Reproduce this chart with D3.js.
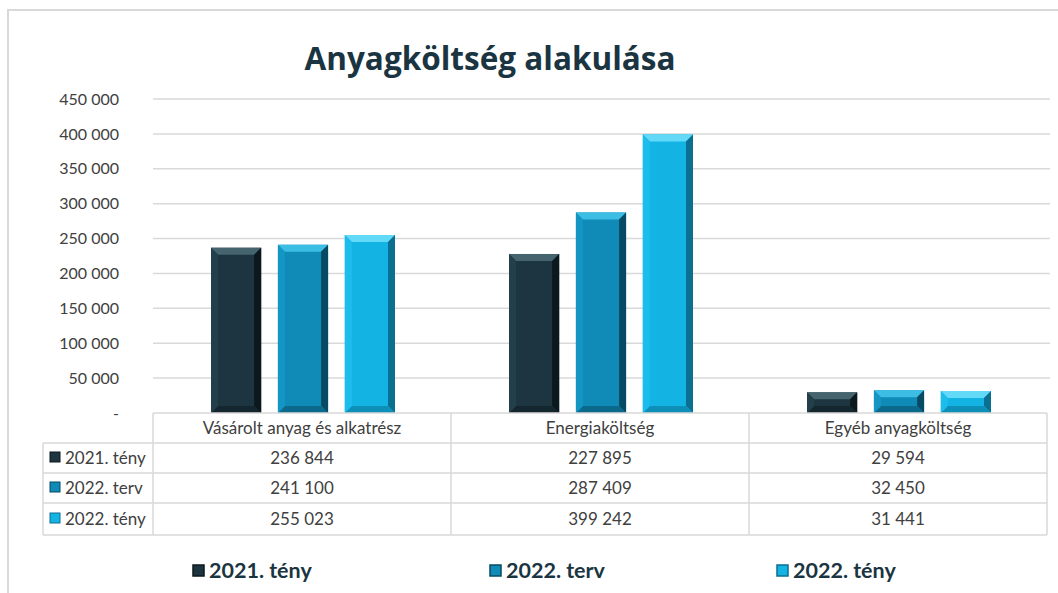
<!DOCTYPE html>
<html>
<head>
<meta charset="utf-8">
<script src="https://cdn.jsdelivr.net/npm/d3@7"></script>
<style>
  body { margin: 0; background: #fff; }
  text { font-family: Lato, "Open Sans", sans-serif; }
</style>
</head>
<body>
<div id="canvas"></div>
<script>
const categories = ["Vásárolt anyag és alkatrész", "Energiaköltség", "Egyéb anyagköltség"];
const seriesNames = ["2021. tény", "2022. terv", "2022. tény"];
const teny2021 = [236844, 227895, 29594];
const terv2022 = [241100, 287409, 32450];
const teny2022 = [255023, 399242, 31441];
const yTicks = [0, 50000, 100000, 150000, 200000, 250000, 300000, 350000, 400000, 450000];

const seriesValues = [teny2021, terv2022, teny2022];
const colors = [
  { base: "#1c3540", top: "#45646e", side: "#0b181d", bottom: "#14262e", left: "#233f4a" },
  { base: "#108ab6", top: "#3cbde3", side: "#074a63", bottom: "#0b6a8c", left: "#1496c4" },
  { base: "#13b3e4", top: "#62d9f7", side: "#0a6f90", bottom: "#0e8fb8", left: "#1cbdec" }
];

const width = 1058, height = 593;
const svg = d3.select("#canvas").append("svg")
  .attr("width", width).attr("height", height);

// chart frame
svg.append("path")
  .attr("d", "M8,593 V10 H1058")
  .attr("fill", "none").attr("stroke", "#d9d9d9").attr("stroke-width", 2);

svg.append("text")
  .attr("x", 490).attr("y", 70)
  .attr("text-anchor", "middle")
  .style("font-family", "'Open Sans', sans-serif")
  .style("font-weight", "bold").style("font-size", "31.5px")
  .attr("fill", "#1a3541")
  .text("Anyagköltség alakulása");

const plotLeft = 153, plotRight = 1047, plotTop = 99, plotBottom = 413;

const y = d3.scaleLinear().domain([0, 450000]).range([plotBottom, plotTop]);
const x0 = d3.scaleBand().domain(categories).range([plotLeft, plotRight]);
const x1 = d3.scaleBand().domain(seriesNames).range([58, 242]).paddingInner(0.25).paddingOuter(0);

const fmt = v => v === 0 ? "-" : d3.format(",")(v).replace(/,/g, " ");

// gridlines
svg.append("g").selectAll("line").data(yTicks.filter(d => d > 0)).join("line")
  .attr("x1", plotLeft).attr("x2", 1050)
  .attr("y1", d => y(d)).attr("y2", d => y(d))
  .attr("stroke", "#d9d9d9").attr("stroke-width", 1.5);

// y axis labels
const yAxis = svg.append("g")
  .attr("transform", `translate(119,0)`)
  .call(d3.axisLeft(y).tickValues(yTicks).tickFormat(fmt).tickSize(0).tickPadding(0));
yAxis.select(".domain").remove();
yAxis.selectAll("text")
  .style("font-family", "Lato, sans-serif").style("font-size", "16px")
  .attr("fill", "#404040");

// bars with bevel
const b = 7;
seriesValues.forEach((vals, si) => {
  const c = colors[si];
  const g = svg.append("g");
  vals.forEach((v, ci) => {
    const x = x0(categories[ci]) + x1(seriesNames[si]);
    const w = x1.bandwidth();
    const yt = y(v), yb = y(0);
    const bar = g.append("g");
    bar.append("rect").attr("x", x).attr("y", yt).attr("width", w).attr("height", yb - yt).attr("fill", c.base);
    const bb = Math.min(b, (yb - yt) / 2);
    bar.append("polygon").attr("fill", c.top)
      .attr("points", [[x, yt], [x + w, yt], [x + w - bb, yt + bb], [x + bb, yt + bb]].join(" "));
    bar.append("polygon").attr("fill", c.side)
      .attr("points", [[x + w, yt], [x + w, yb], [x + w - bb, yb - bb], [x + w - bb, yt + bb]].join(" "));
    bar.append("polygon").attr("fill", c.bottom)
      .attr("points", [[x, yb], [x + w, yb], [x + w - bb, yb - bb], [x + bb, yb - bb]].join(" "));
    bar.append("polygon").attr("fill", c.left)
      .attr("points", [[x, yt], [x + bb, yt + bb], [x + bb, yb - bb], [x, yb]].join(" "));
  });
});

// data table
const rowH = [413, 443, 473, 503, 535];
const tableLeft = 43;
const tbl = svg.append("g").attr("stroke", "#d9d9d9").attr("stroke-width", 1.5);
tbl.append("line").attr("x1", plotLeft).attr("x2", plotRight).attr("y1", rowH[0]).attr("y2", rowH[0]);
rowH.slice(1).forEach(yy => {
  tbl.append("line").attr("x1", tableLeft).attr("x2", plotRight).attr("y1", yy).attr("y2", yy);
});
[plotLeft, x0(categories[1]), x0(categories[2]), plotRight].forEach(xx => {
  tbl.append("line").attr("x1", xx).attr("x2", xx).attr("y1", rowH[0]).attr("y2", rowH[4]);
});
tbl.append("line").attr("x1", tableLeft).attr("x2", tableLeft).attr("y1", rowH[1]).attr("y2", rowH[4]);

const cellFont = "17px";
svg.append("g").selectAll("text").data(categories).join("text")
  .attr("x", d => x0(d) + x0.bandwidth() / 2)
  .attr("y", (rowH[0] + rowH[1]) / 2 + 6)
  .attr("text-anchor", "middle").style("font-size", cellFont).attr("fill", "#404040")
  .text(d => d);

seriesValues.forEach((vals, si) => {
  const cy = (rowH[si + 1] + rowH[si + 2]) / 2 + 6;
  svg.append("rect").attr("x", 50).attr("y", cy - 12).attr("width", 10).attr("height", 10)
    .attr("fill", colors[si].base).attr("stroke", colors[si].side).attr("stroke-width", 1);
  svg.append("text").attr("x", 65).attr("y", cy)
    .style("font-size", cellFont).attr("fill", "#404040").text(seriesNames[si]);
  svg.append("g").selectAll("text").data(vals).join("text")
    .attr("x", (d, i) => x0(categories[i]) + x0.bandwidth() / 2)
    .attr("y", cy)
    .attr("text-anchor", "middle").style("font-size", cellFont).attr("fill", "#404040")
    .text(d => fmt(d));
});

// legend
const legendX = [193, 490, 777];
seriesNames.forEach((name, i) => {
  const lg = svg.append("g").attr("transform", `translate(${legendX[i]},571)`);
  lg.append("rect").attr("x", 0).attr("y", -6).attr("width", 11).attr("height", 11)
    .attr("fill", colors[i].base).attr("stroke", colors[i].side).attr("stroke-width", 1.5);
  lg.append("text").attr("x", 16).attr("y", 7)
    .style("font-weight", "bold").style("font-size", "21.5px").attr("fill", "#1a3541")
    .text(name);
});
</script>
</body>
</html>
